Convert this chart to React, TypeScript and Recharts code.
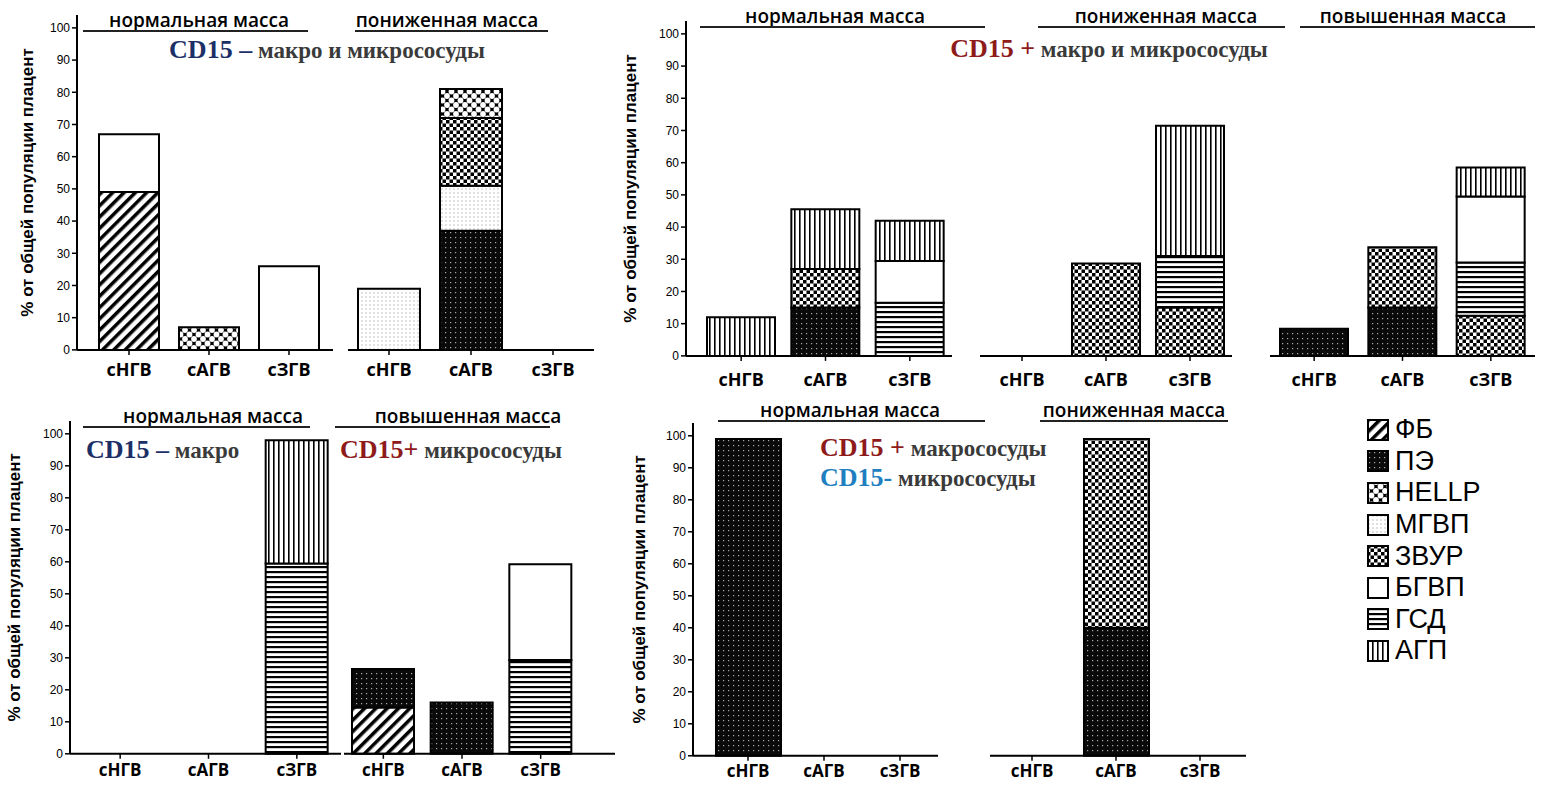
import { Bar, BarChart, XAxis, YAxis } from 'recharts'

// stack order (bottom -> top) and legend order
const stackKeys = ['ФБ', 'ПЭ', 'МГВП', 'ЗВУР', 'HELLP', 'ГСД', 'БГВП', 'АГП']
const legendKeys = ['ФБ', 'ПЭ', 'HELLP', 'МГВП', 'ЗВУР', 'БГВП', 'ГСД', 'АГП']
const yTicks = [0, 10, 20, 30, 40, 50, 60, 70, 80, 90, 100]

// CD15 – макро и микрососуды
const p1Normal = [
  { cat: 'сНГВ', ФБ: 49, БГВП: 18 },
  { cat: 'сАГВ', HELLP: 7 },
  { cat: 'сЗГВ', БГВП: 26 },
]
const p1Low = [
  { cat: 'сНГВ', МГВП: 19 },
  { cat: 'сАГВ', ПЭ: 37, МГВП: 14, ЗВУР: 21, HELLP: 9 },
  { cat: 'сЗГВ' },
]

// CD15 + макро и микрососуды
const p2Normal = [
  { cat: 'сНГВ', АГП: 12 },
  { cat: 'сАГВ', ПЭ: 15, ЗВУР: 12, АГП: 18.5 },
  { cat: 'сЗГВ', ГСД: 16.5, БГВП: 13, АГП: 12.5 },
]
const p2Low = [
  { cat: 'сНГВ' },
  { cat: 'сАГВ', ЗВУР: 28.7 },
  { cat: 'сЗГВ', ЗВУР: 15, ГСД: 16, АГП: 40.5 },
]
const p2High = [
  { cat: 'сНГВ', ПЭ: 8.4 },
  { cat: 'сАГВ', ПЭ: 15, ЗВУР: 18.7 },
  { cat: 'сЗГВ', ЗВУР: 12.5, ГСД: 16.5, БГВП: 20.5, АГП: 9 },
]

// CD15 – макро / CD15+ микрососуды
const p3Normal = [
  { cat: 'сНГВ' },
  { cat: 'сАГВ' },
  { cat: 'сЗГВ', ГСД: 59.5, АГП: 38.5 },
]
const p3High = [
  { cat: 'сНГВ', ФБ: 14.5, ПЭ: 12 },
  { cat: 'сАГВ', ПЭ: 16 },
  { cat: 'сЗГВ', ГСД: 29.3, БГВП: 29.9 },
]

// CD15 + макрососуды / CD15- микрососуды
const p4Normal = [
  { cat: 'сНГВ', ПЭ: 99 },
  { cat: 'сАГВ' },
  { cat: 'сЗГВ' },
]
const p4Low = [
  { cat: 'сНГВ' },
  { cat: 'сАГВ', ПЭ: 40, ЗВУР: 59 },
  { cat: 'сЗГВ' },
]

const fills: Record<string, string> = {
  ФБ: 'url(#pFB)',
  ПЭ: 'url(#pPE)',
  HELLP: 'url(#pHELLP)',
  МГВП: 'url(#pMGVP)',
  ЗВУР: 'url(#pZVUR)',
  БГВП: '#fff',
  ГСД: 'url(#pGSD)',
  АГП: 'url(#pAGP)',
}

const withZeros = (rows: any[]) =>
  rows.map((r) => {
    const out: any = { ...r }
    stackKeys.forEach((k) => {
      if (out[k] === undefined) out[k] = 0
    })
    return out
  })

function Patterns() {
  return (
    <svg width={0} height={0} style={{ position: 'absolute' }}>
      <defs>
        <pattern id="pFB" width={8} height={8} patternUnits="userSpaceOnUse" patternTransform="rotate(45)">
          <rect width={8} height={8} fill="#fff" />
          <rect width={3.5} height={8} fill="#000" />
        </pattern>
        <pattern id="pPE" width={5} height={5} patternUnits="userSpaceOnUse">
          <rect width={5} height={5} fill="#0a0a0a" />
          <rect x={2} y={2} width={1.2} height={1.2} fill="#aaa" />
        </pattern>
        <pattern id="pHELLP" width={9} height={9} patternUnits="userSpaceOnUse">
          <rect width={9} height={9} fill="#000" />
          <circle cx={0} cy={0} r={2.9} fill="#fff" />
          <circle cx={9} cy={0} r={2.9} fill="#fff" />
          <circle cx={0} cy={9} r={2.9} fill="#fff" />
          <circle cx={9} cy={9} r={2.9} fill="#fff" />
          <circle cx={4.5} cy={4.5} r={2.9} fill="#fff" />
        </pattern>
        <pattern id="pMGVP" width={4} height={4} patternUnits="userSpaceOnUse">
          <rect width={4} height={4} fill="#fff" />
          <rect x={1.5} y={1.5} width={1} height={1} fill="#888" />
        </pattern>
        <pattern id="pZVUR" width={7} height={7} patternUnits="userSpaceOnUse">
          <rect width={7} height={7} fill="#fff" />
          <rect width={3.5} height={3.5} fill="#000" />
          <rect x={3.5} y={3.5} width={3.5} height={3.5} fill="#000" />
        </pattern>
        <pattern id="pGSD" width={5} height={5} patternUnits="userSpaceOnUse">
          <rect width={5} height={5} fill="#fff" />
          <rect width={5} height={2.2} fill="#000" />
        </pattern>
        <pattern id="pAGP" width={5} height={5} patternUnits="userSpaceOnUse">
          <rect width={5} height={5} fill="#fff" />
          <rect width={1.6} height={5} fill="#000" />
        </pattern>
      </defs>
    </svg>
  )
}

interface GroupProps {
  rows: any[]
  left: number
  zeroY: number
  ppu: number
  width: number
  padL?: number
  padR?: number
  barSize: number
  showAxis?: boolean
  labelOffset?: number
  tickGap?: number
  catSize?: number
}

function Group({ rows, left, zeroY, ppu, width, padL = 0, padR = 0, barSize, showAxis, labelOffset = 20, tickGap = 8, catSize = 18 }: GroupProps) {
  const plotH = 104 * ppu
  const yw = showAxis ? 72 : 0
  const xh = Math.min(46, 786 - zeroY)
  return (
    <div style={{ position: 'absolute', left: left - yw, top: zeroY - plotH }}>
      <BarChart
        width={width + yw}
        height={plotH + xh}
        data={withZeros(rows)}
        margin={{ top: 0, right: 0, bottom: 0, left: 0 }}
        barSize={barSize}
      >
        <XAxis
          dataKey="cat"
          height={xh}
          padding={{ left: padL, right: padR }}
          axisLine={{ stroke: '#000', strokeWidth: 2 }}
          tickLine={{ stroke: '#000', strokeWidth: 1.5 }}
          tickSize={5}
          tickMargin={tickGap}
          interval={0}
          tick={{ fill: '#000', fontSize: catSize, fontWeight: 700, fontFamily: 'Open Sans' }}
        />
        <YAxis
          hide={!showAxis}
          width={yw}
          domain={[0, 104]}
          ticks={yTicks}
          interval={0}
          axisLine={{ stroke: '#000', strokeWidth: 2 }}
          tickLine={{ stroke: '#000', strokeWidth: 1.5 }}
          tickSize={5}
          tick={{ fill: '#000', fontSize: 12, fontFamily: 'Liberation Sans' }}
          label={{
            value: '% от общей популяции плацент',
            angle: -90,
            position: 'insideLeft',
            offset: labelOffset,
            style: { textAnchor: 'middle', fontWeight: 700, fontSize: 17, fill: '#000', fontFamily: 'Liberation Sans' },
          }}
        />
        {stackKeys.map((k) => (
          <Bar key={k} dataKey={k} stackId="s" fill={fills[k]} stroke="#000" strokeWidth={2} isAnimationActive={false} />
        ))}
      </BarChart>
    </div>
  )
}

function Header({ text, cx, y, x1, x2, lineY }: { text: string; cx: number; y: number; x1: number; x2: number; lineY: number }) {
  return (
    <>
      <div
        style={{
          position: 'absolute',
          left: cx - 150,
          width: 300,
          top: y - 12,
          lineHeight: '24px',
          textAlign: 'center',
          fontFamily: 'Open Sans',
          fontWeight: 600,
          fontSize: 19,
          color: '#000',
        }}
      >
        {text}
      </div>
      <div style={{ position: 'absolute', left: x1, width: x2 - x1, top: lineY - 1, height: 2, background: '#222' }} />
    </>
  )
}

function Title({ head, rest, color, x, y, center }: { head: string; rest: string; color: string; x: number; y: number; center?: boolean }) {
  return (
    <div
      style={{
        position: 'absolute',
        left: center ? x - 250 : x,
        width: center ? 500 : undefined,
        textAlign: center ? 'center' : 'left',
        top: y - 15,
        lineHeight: '30px',
        whiteSpace: 'nowrap',
        fontFamily: 'Liberation Serif',
        fontWeight: 700,
        fontSize: 23,
        color: '#3a3a3a',
      }}
    >
      <span style={{ color, fontSize: 26 }}>{head}</span> {rest}
    </div>
  )
}

function Legend() {
  return (
    <div style={{ position: 'absolute', left: 1367, top: 414 }}>
      {legendKeys.map((k) => (
        <div key={k} style={{ display: 'flex', alignItems: 'center', height: 31.6 }}>
          <svg width={22} height={22} style={{ marginRight: 6 }}>
            <rect x={1} y={1} width={20} height={20} fill={fills[k]} stroke="#000" strokeWidth={2} />
          </svg>
          <span style={{ fontFamily: 'Liberation Sans', fontSize: 27, color: '#000', lineHeight: '27px' }}>{k}</span>
        </div>
      ))}
    </div>
  )
}

export default function App() {
  return (
    <div style={{ position: 'absolute', left: 0, top: 0, width: 1544, height: 787, background: '#fff', overflow: 'hidden' }}>
      <Patterns />

      {/* top-left */}
      <Group rows={p1Normal} left={77} zeroY={350} ppu={3.22} width={256} padL={12} padR={4} barSize={60} showAxis labelOffset={22} tickGap={8} />
      <Group rows={p1Low} left={348} zeroY={350} ppu={3.22} width={246} barSize={62} tickGap={8} />
      <Header text="нормальная масса" cx={199} y={20} x1={83} x2={308} lineY={31} />
      <Header text="пониженная масса" cx={447} y={20} x1={355} x2={548} lineY={31} />
      <Title head="CD15 –" rest="макро и микрососуды" color="#1c2f66" x={327} y={50} center />

      {/* top-right */}
      <Group rows={p2Normal} left={686} zeroY={356} ppu={3.22} width={266} padL={13} barSize={68} showAxis labelOffset={16} tickGap={12} />
      <Group rows={p2Low} left={980} zeroY={356} ppu={3.22} width={252} barSize={68} tickGap={12} />
      <Group rows={p2High} left={1270} zeroY={356} ppu={3.22} width={265} barSize={68} tickGap={12} />
      <Header text="нормальная масса" cx={835} y={16} x1={700} x2={985} lineY={27} />
      <Header text="пониженная масса" cx={1166} y={16} x1={1038} x2={1285} lineY={27} />
      <Header text="повышенная масса" cx={1413} y={16} x1={1300} x2={1535} lineY={27} />
      <Title head="CD15 +" rest="макро и микрососуды" color="#8e1a1a" x={1109} y={49} center />

      {/* bottom-left */}
      <Group rows={p3Normal} left={70} zeroY={754} ppu={3.2} width={271} padL={6} barSize={62} showAxis labelOffset={16} tickGap={5} catSize={17} />
      <Group rows={p3High} left={344} zeroY={754} ppu={3.2} width={271} padR={35} barSize={62} tickGap={5} catSize={17} />
      <Header text="нормальная масса" cx={213} y={416} x1={83} x2={310} lineY={427} />
      <Header text="повышенная масса" cx={468} y={416} x1={335} x2={550} lineY={427} />
      <Title head="CD15 –" rest="макро" color="#1c2f66" x={86} y={450} />
      <Title head="CD15+" rest="микрососуды" color="#8e1a1a" x={340} y={450} />

      {/* bottom-right */}
      <Group rows={p4Normal} left={693} zeroY={756} ppu={3.2} width={245} padL={17} padR={0} barSize={65} showAxis labelOffset={18} tickGap={4} catSize={17} />
      <Group rows={p4Low} left={990} zeroY={756} ppu={3.2} width={256} padR={4} barSize={65} tickGap={4} catSize={17} />
      <Header text="нормальная масса" cx={850} y={410} x1={718} x2={985} lineY={421} />
      <Header text="пониженная масса" cx={1134} y={410} x1={1040} x2={1228} lineY={421} />
      <Title head="CD15 +" rest="макрососуды" color="#8e1a1a" x={820} y={448} />
      <Title head="CD15-" rest="микрососуды" color="#1f7fc0" x={820} y={478} />

      <Legend />
    </div>
  )
}
